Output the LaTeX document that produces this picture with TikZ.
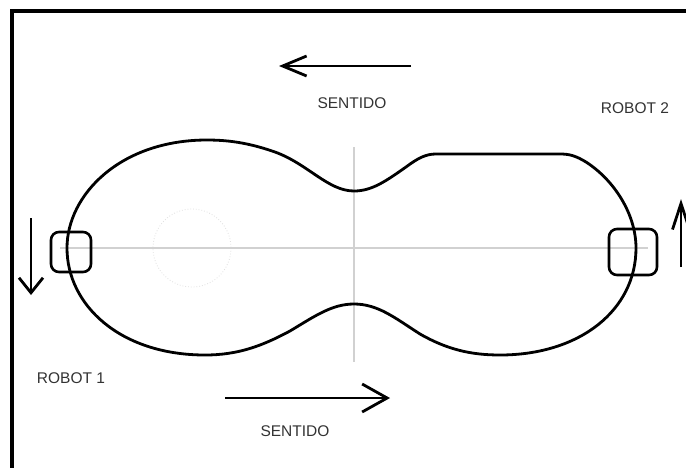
\documentclass[tikz,border=0pt]{standalone}
\usepackage{fontspec}
\setmainfont{Liberation Sans}
\usetikzlibrary{arrows.meta}
\tikzset{
  frameline/.style={line width=3.5pt, black},
  axisline/.style={line width=2pt, black!18},
  trackline/.style={line width=2.8pt, black},
  robotbox/.style={draw, line width=2.6pt, rounded corners=8pt, inner sep=0pt},
  dirarrow/.style={line width=2.8pt, black},
  lbl/.style={text=black!80, inner sep=0pt, font=\fontsize{15.5}{16}\selectfont},
}
\begin{document}
\begin{tikzpicture}[x=1pt, y=-1pt]
\useasboundingbox (0,0) rectangle (686,467);
\clip (0,0) rectangle (686,467);
\fill[white] (0,0) rectangle (686,467);
% frame
\draw[frameline] (12,480) -- (12,11) -- (700,11);
% faint circle
\draw[black!12, line width=0.8pt, dotted] (192,248) circle (39);
% axes
\coordinate (hL) at (60,248);
\coordinate (hR) at (648,248);
\coordinate (vT) at (354,147);
\coordinate (vB) at (354,362);
\draw[axisline] (hL) -- (hR);
\draw[axisline] (vT) -- (vB);
% track
\draw[trackline] (354,191)
  .. controls (328,191) and (308,164) .. (275,152)
  .. controls (252,144) and (232,140) .. (207,140)
  .. controls (120,140) and (67,195) .. (67,248)
  .. controls (67,305) and (120,355) .. (205,355)
  .. controls (238,355) and (262,346) .. (290,331)
  .. controls (315,316) and (332,304) .. (354,304)
  .. controls (378,304) and (395,318) .. (420,334)
  .. controls (448,350) and (472,355) .. (500,355)
  .. controls (580,355) and (636,310) .. (636,248)
  .. controls (636,214) and (614,180) .. (586,162)
  .. controls (576,156) and (570,154) .. (560,154)
  -- (436,154)
  .. controls (426,154) and (418,158) .. (406,167)
  .. controls (386,181) and (372,191) .. (354,191) -- cycle;
% robots
\node[robotbox, minimum width=40pt, minimum height=40pt] (r1) at (71,252) {};
\node[robotbox, minimum width=48pt, minimum height=46pt] (r2) at (633,252) {};
% arrows
\coordinate (a1s) at (411,66);
\coordinate (a1e) at (279,66);
\draw[dirarrow, -{Straight Barb[length=24pt, width=20pt]}] (a1s) -- (a1e);
\coordinate (a2s) at (225,398);
\coordinate (a2e) at (390,398);
\draw[dirarrow, -{Straight Barb[length=25pt, width=28pt]}] (a2s) -- (a2e);
\coordinate (a3s) at (31,218);
\coordinate (a3e) at (31,295);
\draw[dirarrow, -{Straight Barb[length=15pt, width=24pt]}] (a3s) -- (a3e);
\coordinate (a4s) at (681,267);
\coordinate (a4e) at (681,199);
\draw[dirarrow, -{Straight Barb[length=26pt, width=17pt]}] (a4s) -- (a4e);
% labels
\node[lbl] (s1) at (352,103) {SENTIDO};
\node[lbl] (s2) at (295,431) {SENTIDO};
\node[lbl] (rb2) at (635,108) {ROBOT 2};
\node[lbl] (rb1) at (71,378) {ROBOT 1};
\end{tikzpicture}
\end{document}
